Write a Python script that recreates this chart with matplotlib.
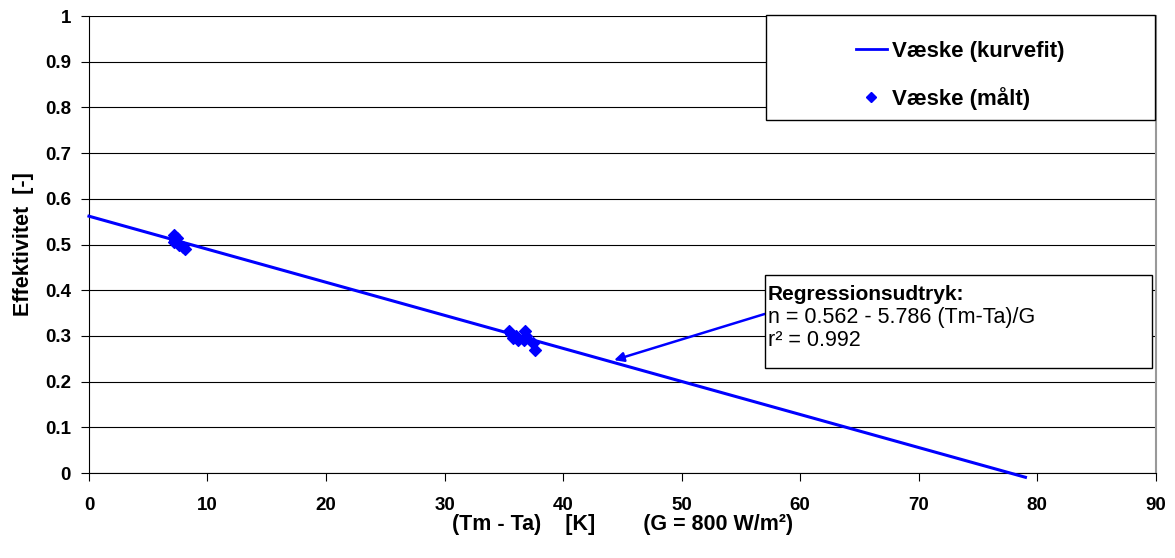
import numpy as np
import matplotlib
matplotlib.use("Agg")
import matplotlib.pyplot as plt
from matplotlib.lines import Line2D

plt.rcParams['font.family'] = ['Liberation Sans', 'DejaVu Sans']

# fit parameters
eta0 = 0.562
a1 = 5.786
G = 800
r2 = 0.992

# measured points
maalt_dT = [7.2, 7.3, 7.2, 7.4, 7.6, 7.9, 8.1,
            35.4, 35.6, 35.8, 36.0, 36.2, 36.8, 36.9, 36.7, 37.5, 37.6]
maalt_eta = [0.52, 0.51, 0.505, 0.515, 0.50, 0.495, 0.49,
             0.31, 0.305, 0.295, 0.30, 0.29, 0.31, 0.30, 0.29, 0.285, 0.27]

fit_dT = np.array([0, 79])
fit_eta = eta0 - a1 * fit_dT / G

fig = plt.figure(figsize=(11.75, 5.58), dpi=100)
ax = fig.add_axes([0.0757, 0.1523, 0.908, 0.819])

ax.plot(fit_dT, fit_eta, color='#0000FF', lw=2.2, clip_on=False, zorder=3)
ax.scatter(maalt_dT, maalt_eta, marker='D', s=36, color='#0000FF', zorder=4)

ax.set_xlim(0, 90)
ax.set_ylim(0, 1)
ax.set_xticks(np.arange(0, 91, 10))
ax.set_yticks(np.arange(0, 1.01, 0.1))
ax.set_yticklabels(['0'] + [f'{v:.1f}' for v in np.arange(0.1, 0.95, 0.1)] + ['1'])
ax.grid(axis='y', color='black', lw=0.8)
ax.set_axisbelow(True)
ax.tick_params(direction='out', length=6, width=0.8, labelsize=13.5)
ax.tick_params(axis='y', pad=7)
ax.tick_params(axis='x', pad=11)
for lab in ax.get_xticklabels() + ax.get_yticklabels():
    lab.set_fontweight('bold')
ax.spines['top'].set_visible(False)
ax.spines['right'].set_color('#999999')
ax.spines['right'].set_linewidth(1.5)

ax.set_xlabel('(Tm - Ta)    [K]        (G = 800 W/m²)', fontsize=15.5,
              fontweight='bold', labelpad=0)
ax.set_ylabel('Effektivitet  [-]', fontsize=15.5, fontweight='bold', labelpad=8)

# legend: frame drawn separately, entries centred in it
lx0, lx1, ly0, ly1 = 57.1, 89.9, 0.772, 1.002
ax.add_patch(plt.Rectangle((lx0, ly0), lx1 - lx0, ly1 - ly0, facecolor='white',
                           edgecolor='black', lw=1.0, clip_on=False, zorder=6))
handles = [Line2D([], [], color='#0000FF', lw=2),
           Line2D([], [], color='#0000FF', marker='D', ls='none', markersize=5.5)]
leg = ax.legend(handles, ['Væske (kurvefit)', 'Væske (målt)'],
                loc='center',
                bbox_to_anchor=(lx0, ly0 - 0.017, lx1 - lx0, ly1 - ly0),
                bbox_transform=ax.transData,
                prop={'weight': 'bold', 'size': 16}, frameon=False,
                labelspacing=1.1, handlelength=1.4, handletextpad=0.25,
                borderaxespad=0)
leg.set_zorder(7)

# regression text box with arrow
bx0, bx1, by0, by1 = 57.0, 89.65, 0.230, 0.433
ax.annotate('', xy=(44.3, 0.247), xytext=(bx0, 0.348),
            arrowprops=dict(arrowstyle='-|>', color='#0000FF', lw=1.8,
                            mutation_scale=14, shrinkA=0, shrinkB=0), zorder=5)
ax.add_patch(plt.Rectangle((bx0, by0), bx1 - bx0, by1 - by0,
                           facecolor='white', edgecolor='black', lw=1.0,
                           zorder=6))
ax.text(bx0 + 0.25, 0.39, 'Regressionsudtryk:', fontsize=15,
        fontweight='bold', va='center', ha='left', zorder=7)
ax.text(bx0 + 0.25, 0.341, 'n = %.3f - %.3f (Tm-Ta)/G' % (eta0, a1),
        fontsize=15.5, va='center', ha='left', zorder=7)
ax.text(bx0 + 0.25, 0.291, 'r² = %.3f' % r2,
        fontsize=15.5, va='center', ha='left', zorder=7)

fig.savefig('out.png', dpi=100)
